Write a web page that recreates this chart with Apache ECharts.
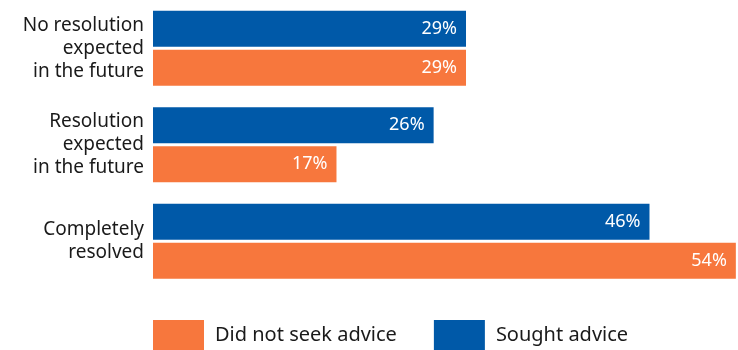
<!DOCTYPE html>
<html>
<head>
<meta charset="utf-8">
<script src="https://cdn.jsdelivr.net/npm/echarts@6/dist/echarts.min.js"></script>
<style>html,body{margin:0;padding:0;background:#fff}#c{width:738px;height:350px}</style>
</head>
<body>
<div id="c"></div>
<script>
var categories = ["No resolution\nexpected\nin the future", "Resolution\nexpected\nin the future", "Completely\nresolved"];
var soughtAdvice = [29, 26, 46];
var didNotSeekAdvice = [29, 17, 54];
var seriesNames = ["Sought advice", "Did not seek advice"];
var legendOrder = ["Did not seek advice", "Sought advice"];

var chart = echarts.init(document.getElementById('c'), null, {renderer: 'canvas'});
var FONT = '"Noto Sans", "Open Sans", sans-serif';
var labelCfg = {
  show: true, position: 'insideRight', distance: 9, color: '#fff',
  fontFamily: FONT, fontSize: 18, formatter: '{c}%'
};
chart.setOption({
  animation: false,
  textStyle: {fontFamily: FONT},
  grid: {left: 153, right: 0, top: -5.5, height: 295, containLabel: false},
  xAxis: {type: 'value', min: 0, max: 54.2, show: false},
  yAxis: {
    type: 'category', data: categories, inverse: true,
    axisLine: {show: false}, axisTick: {show: false},
    axisLabel: {fontSize: 19, lineHeight: 23, color: '#1a1a1a', margin: 9, align: 'right', fontFamily: FONT}
  },
  legend: {
    data: legendOrder, left: 148, top: 315, itemWidth: 51, itemHeight: 30, itemGap: 37,
    icon: 'rect', textStyle: {fontSize: 20, color: '#1a1a1a', fontFamily: FONT, padding: [0, 0, 0, 6]}
  },
  series: [
    {name: seriesNames[0], type: 'bar', data: soughtAdvice, barWidth: 36, barGap: '8%', itemStyle: {color: '#0059a8'}, label: labelCfg},
    {name: seriesNames[1], type: 'bar', data: didNotSeekAdvice, barWidth: 36, barGap: '8%', itemStyle: {color: '#f7773d'}, label: labelCfg}
  ]
});
</script>
</body>
</html>
